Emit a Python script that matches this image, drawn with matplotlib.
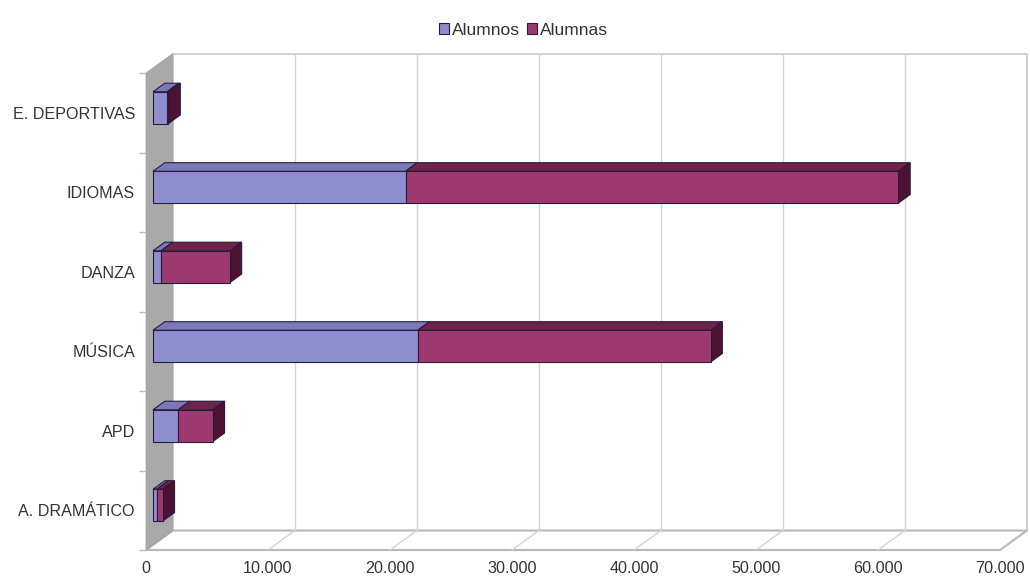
import matplotlib
matplotlib.use('Agg')
import matplotlib.pyplot as plt
from matplotlib.patches import Polygon, Patch

plt.rcParams['font.family'] = ['Liberation Sans', 'DejaVu Sans']

# Data
categorias = ['A. DRAMÁTICO', 'APD', 'MÚSICA', 'DANZA', 'IDIOMAS', 'E. DEPORTIVAS']
alumnos = [300, 2050, 21700, 650, 20700, 1150]
alumnas = [500, 2850, 24000, 5650, 40400, 120]
xticks = [0, 10000, 20000, 30000, 40000, 50000, 60000, 70000]
xlabels = ['0', '10.000', '20.000', '30.000', '40.000', '50.000', '60.000', '70.000']

# fake 3D: oblique offset of the full floor depth, in data units
DX, DY = 2200, 0.245
XMAX = 70000
bar_start, bar_depth, bar_h = 0.26, 0.44, 0.2

colors = {
    'Alumnos': ('#8e8ecf', '#7a7abb', '#55558f'),
    'Alumnas': ('#9c3a6e', '#6e2348', '#4d1233'),
}
edge = '#2a1a40'

fig = plt.figure(figsize=(10.30, 5.79), dpi=100)
ax = fig.add_axes([146 / 1030, 29 / 579, 854 / 1030, 477 / 579])
ax.set_xlim(0, XMAX)
ax.set_ylim(-0.5, len(categorias) - 0.5)
for s in ax.spines.values():
    s.set_visible(False)


def poly(pts, fc, ec, lw=0.8, z=2):
    ax.add_patch(Polygon(pts, closed=True, facecolor=fc, edgecolor=ec,
                         linewidth=lw, zorder=z, clip_on=False))


y0, y1 = -0.5, len(categorias) - 0.5
# back wall
poly([(DX, y0 + DY), (XMAX + DX, y0 + DY), (XMAX + DX, y1 + DY), (DX, y1 + DY)],
     'white', '#c8c8c8', 1.2, 0)
# floor
poly([(0, y0), (XMAX, y0), (XMAX + DX, y0 + DY), (DX, y0 + DY)],
     'white', '#b8b8b8', 1.5, 0)
# side wall
poly([(0, y0), (0, y1), (DX, y1 + DY), (DX, y0 + DY)], '#a9a9a9', '#a0a0a0', 0.5, 1)

# grid lines on back wall and floor
for v in xticks[1:-1]:
    ax.plot([v + DX, v + DX], [y0 + DY, y1 + DY], color='#d4d4d4', lw=1, zorder=0.5,
            clip_on=False)
    ax.plot([v, v + DX], [y0, y0 + DY], color='#d4d4d4', lw=1, zorder=0.5, clip_on=False)

# bars
ox, oy = bar_start * DX, bar_start * DY
bx, by = bar_depth * DX, bar_depth * DY
for i in range(len(categorias)):
    left = 0
    segs = [(alumnos[i], 'Alumnos'), (alumnas[i], 'Alumnas')]
    for k, (val, name) in enumerate(segs):
        front, top, side = colors[name]
        a, b = left + ox, left + val + ox
        lo, hi = i - bar_h + oy, i + bar_h + oy
        poly([(a, hi), (b, hi), (b + bx, hi + by), (a + bx, hi + by)], top, edge, 0.8, 3)
        poly([(a, lo), (b, lo), (b, hi), (a, hi)], front, edge, 0.8, 4)
        if k == len(segs) - 1:
            poly([(b, lo), (b + bx, lo + by), (b + bx, hi + by), (b, hi)], side, edge, 0.8, 3)
        left += val

ax.set_xticks(xticks)
ax.set_xticklabels(xlabels)
ax.set_yticks(range(len(categorias)))
ax.set_yticklabels(categorias)
ax.set_yticks([y0 + j for j in range(len(categorias) + 1)], minor=True)
ax.tick_params(axis='both', which='major', length=0, labelsize=11.6, labelcolor='#333333')
ax.tick_params(axis='x', pad=8)
ax.tick_params(axis='y', pad=8)
ax.tick_params(axis='y', which='minor', length=5, color='#bbbbbb', width=1)
ax.tick_params(axis='x', which='minor', length=0)

handles = [Patch(facecolor=colors[n][0], edgecolor=edge, linewidth=0.8, label=n)
           for n in ['Alumnos', 'Alumnas']]
fig.legend(handles=handles, loc='upper center', bbox_to_anchor=(0.508, 0.988), ncol=2,
           frameon=False, fontsize=12.5, handlelength=0.6, handleheight=0.6,
           handletextpad=0.15, columnspacing=0.4, labelcolor='#333333')

fig.savefig('out.png', dpi=100)
